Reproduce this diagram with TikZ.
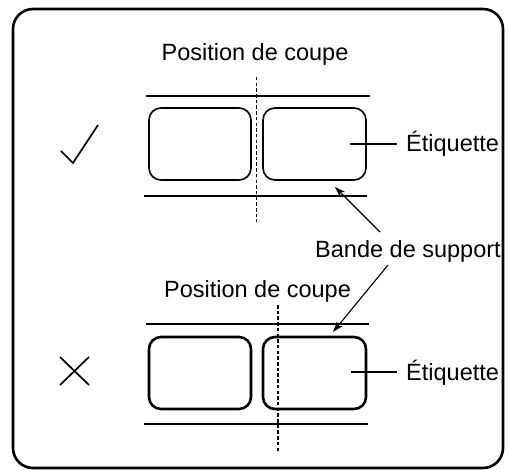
\documentclass[tikz,border=0pt]{standalone}
\usepackage{fontspec}
\setmainfont{Liberation Sans}
\usetikzlibrary{arrows.meta}
\begin{document}
\begin{tikzpicture}[x=1pt,y=-1pt,
  lbl/.style={draw,rounded corners=12pt,minimum width=102pt,minimum height=72pt,inner sep=0pt},
  txt/.style={inner sep=0pt,font=\fontsize{23.5}{27}\selectfont},
  ettxt/.style={inner ysep=0pt,inner xsep=9pt,anchor=base west,font=\fontsize{23.5}{27}\selectfont},
  tape/.style={line width=2pt},
  cut/.style={line width=1.8pt,dash pattern=on 3.5pt off 2.2pt},
  arr/.style={line width=1.1pt,-{Stealth[length=11pt,width=7.5pt]}},
  lead/.style={line width=1.1pt}]
\useasboundingbox (0,0) rectangle (508,470);
\draw[line width=2.6pt,rounded corners=20pt] (13,9) rectangle (503,468);
% top section
\node[txt,anchor=base] (pos1) at (255,61) {Position de coupe};
\draw[tape] (146,96) -- (370,96);
\draw[tape] (144,196) -- (367,196);
\node[lbl,line width=1.6pt] (a1) at (200,144) {};
\node[lbl,line width=1.6pt,minimum width=103pt] (b1) at (314.5,144) {};
\coordinate (c1t) at (256.5,77);
\coordinate (c1b) at (256.5,222);
\draw[cut] (c1t) -- (c1b);
\node[ettxt] (et1) at (397,151.5) {Étiquette};
\coordinate (l1) at (350,144);
\draw[lead] (l1) -- (l1 -| et1.west);
\draw[line width=1.7pt] (61,151) -- (73,163) -- (98,125);
% support
\node[txt,anchor=base] (bande) at (408,258) {Bande de support};
\coordinate (t1) at (380,232);
\coordinate (h1) at (335,187);
\coordinate (t2) at (388,265);
\coordinate (h2) at (333,332);
\draw[arr] (t1) -- (h1);
\draw[arr] (t2) -- (h2);
% bottom section
\node[txt,anchor=base] (pos2) at (257.5,297) {Position de coupe};
\draw[tape] (146,324) -- (369,324);
\draw[tape] (144,424) -- (368,424);
\node[lbl,line width=2.6pt] (a2) at (200,373) {};
\node[lbl,line width=2.6pt,minimum width=103pt] (b2) at (314.5,373) {};
\coordinate (c2t) at (278,305);
\coordinate (c2b) at (278,453);
\draw[cut] (c2t) -- (c2b);
\node[ettxt] (et2) at (397,380.5) {Étiquette};
\coordinate (l2) at (351,372);
\draw[lead] (l2) -- (l2 -| et2.west);
\draw[line width=1.7pt] (60,357) -- (89,385) (60,385) -- (89,357);
\end{tikzpicture}
\end{document}
